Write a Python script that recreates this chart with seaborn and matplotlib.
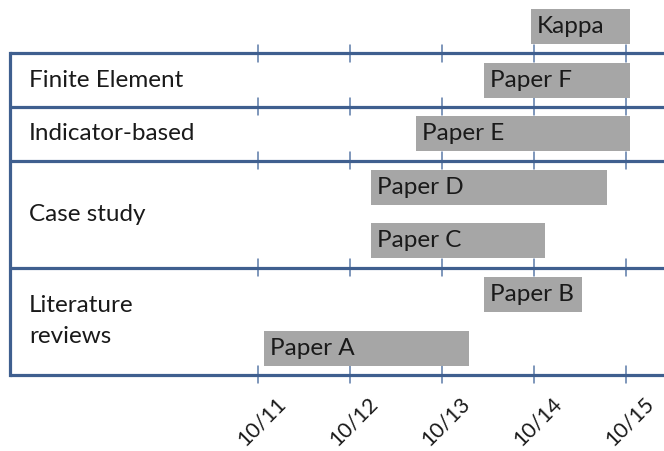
import matplotlib
matplotlib.use("Agg")
import matplotlib.pyplot as plt
import seaborn as sns
import pandas as pd

# ---- data ----
papers = ["Kappa", "Paper F", "Paper E", "Paper D", "Paper C", "Paper B", "Paper A"]
start_day = [13.97, 13.46, 12.72, 12.23, 12.23, 13.46, 11.06]
end_day = [15.04, 15.04, 15.04, 14.79, 14.12, 14.52, 13.29]
rows = [0, 1, 2, 3, 4, 5, 6]

lanes = ["Finite Element", "Indicator-based", "Case study", "Literature\nreviews"]
lane_bounds = [(0.5, 1.5), (1.5, 2.5), (2.5, 4.5), (4.5, 6.5)]

tick_days = [11, 12, 13, 14, 15]
tick_labels = ["10/11", "10/12", "10/13", "10/14", "10/15"]

df = pd.DataFrame({"paper": papers, "start": start_day, "end": end_day, "row": rows})
df["dur"] = df["end"] - df["start"]

sns.set_style("white")
plt.rcParams["font.family"] = ["Lato", "DejaVu Sans"]

BLUE = "#3f5f8f"
TICKC = "#5b7aa8"
GRAY = "#a6a6a6"
FS = 17.5
TXT = "#1a1a1a"

fig = plt.figure(figsize=(6.64, 4.51), dpi=100)
ax = fig.add_axes([0, 0, 1, 1])

px_per_day = 92.0
x0 = 11 - 258 / px_per_day
x1 = 11 + (664 - 258) / px_per_day
row_px = 53.6
y_off = 26.5
ax.set_xlim(x0, x1)
ax.set_ylim((451 - y_off) / row_px, -y_off / row_px)

# bars
ax.barh(df["row"], df["dur"], left=df["start"], height=0.65, color=GRAY,
        edgecolor="none", zorder=3)
for _, r in df.iterrows():
    ax.text(r["start"] + 0.065, r["row"], r["paper"], ha="left", va="center",
            fontsize=FS, color=TXT, zorder=4)

# lane boxes
bounds = sorted({b for pair in lane_bounds for b in pair})
left_x = x0 + 10 / px_per_day
for b in bounds:
    ax.plot([left_x, x1 + 1], [b, b], color=BLUE, lw=2.3, zorder=2,
            solid_capstyle="butt")
    for t in tick_days:
        ax.plot([t, t], [b - 0.16, b + 0.16], color=TICKC, lw=1.1, zorder=1)
ax.plot([left_x, left_x], [bounds[0], bounds[-1]], color=BLUE, lw=2.3, zorder=2,
        solid_capstyle="projecting")

for name, (lo, hi) in zip(lanes, lane_bounds):
    ax.text(x0 + 29 / px_per_day, (lo + hi) / 2, name, ha="left", va="center",
            fontsize=FS, color=TXT, linespacing=1.6)

# date labels
ylab = (421 - y_off) / row_px
for t, lab in zip(tick_days, tick_labels):
    ax.text(t + 0.04, ylab, lab, rotation=45, ha="center", va="center",
            fontsize=15.5, color=TXT)

ax.set_axis_off()
fig.savefig("out.png", dpi=100, facecolor="white")
